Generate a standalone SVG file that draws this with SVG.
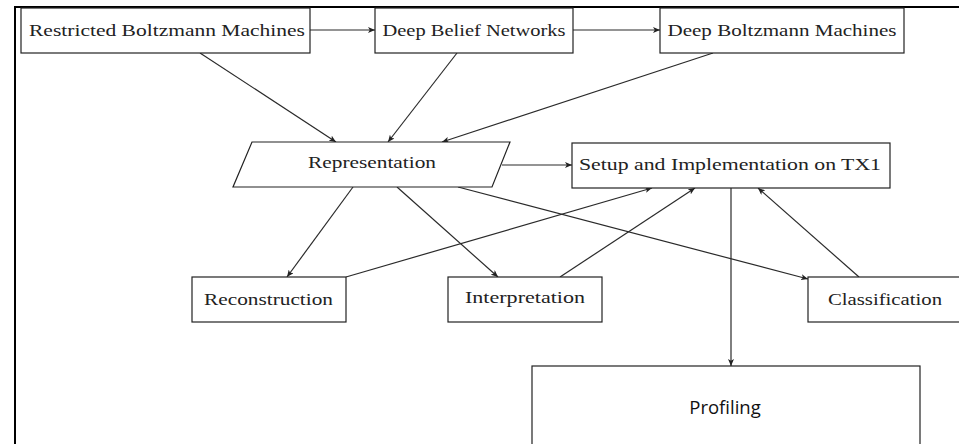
<svg xmlns="http://www.w3.org/2000/svg" width="959" height="444" viewBox="0 0 959 444">
  <defs>
    <marker id="arrow" markerUnits="userSpaceOnUse" markerWidth="8" markerHeight="6" refX="7" refY="3" orient="auto">
      <path d="M0,0 L7,3 L0,6 L1.8,3 z" fill="#222"/>
    </marker>
    <style>
      .box { fill: #fff; stroke: #222; stroke-width: 1.2; }
      .lbl { font-family: "Liberation Serif", "DejaVu Serif", serif; font-size: 17px; fill: #222; text-anchor: middle; }
      .sans { font-family: "Open Sans", "Noto Sans", sans-serif; font-size: 18.5px; fill: #111; text-anchor: middle; }
      .edge { fill: none; stroke: #2a2a2a; stroke-width: 1.2; marker-end: url(#arrow); }
      .frame { fill: none; stroke: #000; stroke-width: 2; }
    </style>
  </defs>

  <rect width="959" height="444" fill="#fff"/>

  <!-- outer frame: top and left edges -->
  <path class="frame" d="M15,444 L15,7 L959,7"/>

  <!-- connectors -->
  <g id="connectors">
    <line class="edge" x1="310" y1="30" x2="375" y2="30"/>
    <line class="edge" x1="573" y1="30" x2="660" y2="30"/>
    <line class="edge" x1="200" y1="53" x2="336" y2="142"/>
    <line class="edge" x1="457" y1="53" x2="388" y2="142"/>
    <line class="edge" x1="713" y1="53" x2="442" y2="142"/>
    <line class="edge" x1="502" y1="165" x2="572" y2="165"/>
    <line class="edge" x1="353" y1="187" x2="287" y2="277"/>
    <line class="edge" x1="397" y1="187" x2="498" y2="277"/>
    <line class="edge" x1="458" y1="187" x2="808" y2="279"/>
    <line class="edge" x1="346" y1="277" x2="652" y2="188"/>
    <line class="edge" x1="560" y1="277" x2="695" y2="188"/>
    <line class="edge" x1="859" y1="277" x2="758" y2="188"/>
    <line class="edge" x1="731" y1="188" x2="731" y2="366"/>
  </g>

  <g id="rbm">
    <rect class="box" x="21" y="8" width="289" height="45"/>
    <text class="lbl" x="167" y="36" textLength="276" lengthAdjust="spacingAndGlyphs">Restricted Boltzmann Machines</text>
  </g>

  <g id="dbn">
    <rect class="box" x="375" y="8" width="198" height="45"/>
    <text class="lbl" x="474" y="36" textLength="183" lengthAdjust="spacingAndGlyphs">Deep Belief Networks</text>
  </g>

  <g id="dbm">
    <rect class="box" x="660" y="8" width="244" height="45"/>
    <text class="lbl" x="782" y="36" textLength="229" lengthAdjust="spacingAndGlyphs">Deep Boltzmann Machines</text>
  </g>

  <g id="representation">
    <polygon class="box" points="252,142 510,142 492,187 233,187"/>
    <text class="lbl" x="372" y="168" textLength="128" lengthAdjust="spacingAndGlyphs">Representation</text>
  </g>

  <g id="setup">
    <rect class="box" x="572" y="143" width="318" height="45"/>
    <text class="lbl" x="730" y="170" textLength="302" lengthAdjust="spacingAndGlyphs">Setup and Implementation on TX1</text>
  </g>

  <g id="reconstruction">
    <rect class="box" x="192" y="277" width="154" height="45"/>
    <text class="lbl" x="268.5" y="305" textLength="129" lengthAdjust="spacingAndGlyphs">Reconstruction</text>
  </g>

  <g id="interpretation">
    <rect class="box" x="448" y="277" width="154" height="45"/>
    <text class="lbl" x="525" y="303" textLength="120" lengthAdjust="spacingAndGlyphs">Interpretation</text>
  </g>

  <g id="classification">
    <rect class="box" x="808" y="277" width="155" height="45"/>
    <text class="lbl" x="885" y="305" textLength="114" lengthAdjust="spacingAndGlyphs">Classification</text>
  </g>

  <g id="profiling">
    <rect class="box" x="532" y="366" width="388" height="90"/>
    <text class="sans" x="725" y="414">Profiling</text>
  </g>
</svg>
